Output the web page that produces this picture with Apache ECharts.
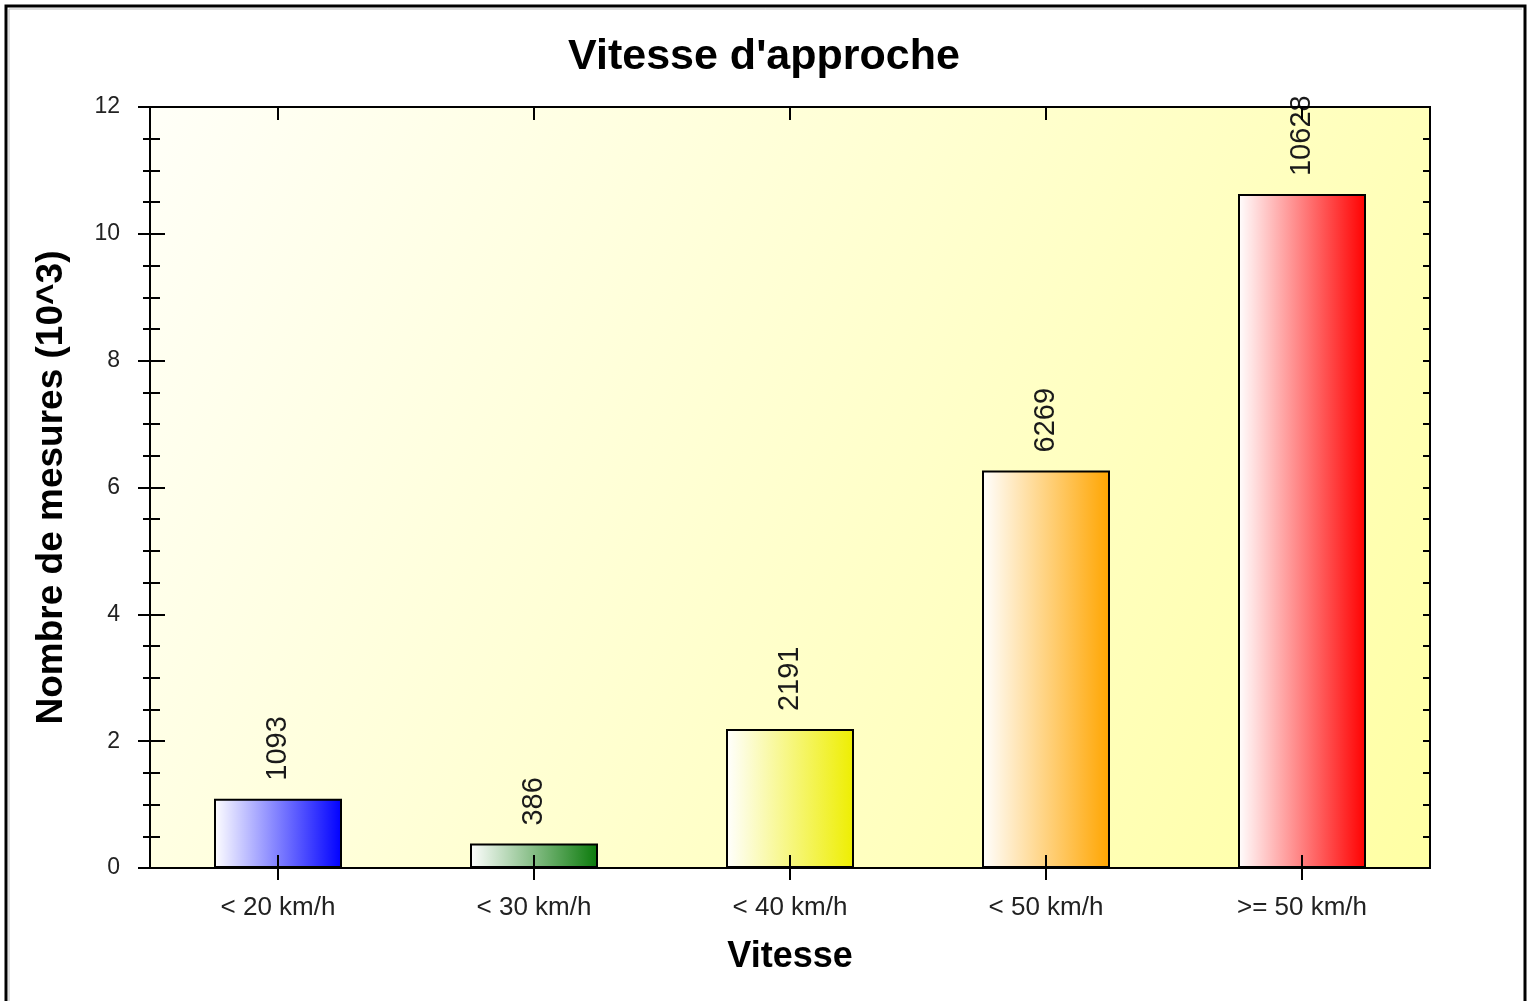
<!DOCTYPE html>
<html>
<head>
<meta charset="utf-8">
<script src="https://cdn.jsdelivr.net/npm/echarts@6/dist/echarts.min.js"></script>
<style>
  html, body { margin: 0; padding: 0; background: #fff; }
  #main { width: 1528px; height: 1001px; }
</style>
</head>
<body>
<div id="main"></div>
<script>
// catégories et valeurs (nombre de mesures)
var categories = ['< 20 km/h', '< 30 km/h', '< 40 km/h', '< 50 km/h', '>= 50 km/h'];
var mesures = [1093, 386, 2191, 6269, 10628];
var couleurs = ['#0000ff', '#0a7a0a', '#eeee00', '#ffa500', '#ff0000'];
var yTicks = [0, 2000, 4000, 6000, 8000, 10000, 12000];

var barData = mesures.map(function (v, i) {
    return {
        value: v,
        itemStyle: {
            color: new echarts.graphic.LinearGradient(0, 0, 1, 0, [
                { offset: 0, color: '#ffffff' },
                { offset: 1, color: couleurs[i] }
            ]),
            borderColor: '#000',
            borderWidth: 2
        }
    };
});

var axisLine = { show: true, onZero: false, lineStyle: { color: '#000', width: 2 } };
var noLine = { show: false, onZero: false };
var tickStyle = { color: '#000', width: 2 };

var myChart = echarts.init(document.getElementById('main'));
var option = {
    animation: false,
    backgroundColor: '#fff',
    title: {
        text: "Vitesse d'approche",
        left: 'center',
        top: 31,
        textStyle: { fontFamily: 'Liberation Sans', fontSize: 43, fontWeight: 'bold', color: '#000' }
    },
    grid: {
        left: 150,
        right: 98,
        top: 107,
        bottom: 133,
        show: true,
        z: 0,
        borderColor: '#000',
        borderWidth: 2,
        backgroundColor: new echarts.graphic.LinearGradient(0, 0, 1, 1, [
            { offset: 0, color: '#fffff8' },
            { offset: 1, color: '#ffffa4' }
        ])
    },
    graphic: [
        {
            type: 'polyline',
            shape: { points: [[6, 1001], [6, 6], [1525, 6], [1525, 1001]] },
            style: { stroke: '#000', lineWidth: 3, fill: null }
        },
        {
            type: 'polyline',
            shape: { points: [[9, 1001], [9, 9], [1522, 9]] },
            style: { stroke: '#bbb', lineWidth: 1, fill: null }
        }
    ],
    xAxis: [
        {
            type: 'category',
            data: categories,
            position: 'bottom',
            z: 5,
            name: 'Vitesse',
            nameLocation: 'middle',
            nameGap: 71,
            nameTextStyle: { fontFamily: 'Liberation Sans', fontSize: 36, fontWeight: 'bold', color: '#000' },
            axisLine: axisLine,
            axisTick: { show: true, alignWithLabel: true, interval: 0, length: 12, lineStyle: tickStyle },
            axisLabel: { interval: 0, margin: 27, fontFamily: 'Liberation Sans', fontSize: 26, color: '#222' }
        },
        {
            type: 'category',
            data: categories,
            position: 'top',
            z: 5,
            axisLine: axisLine,
            axisTick: { show: true, inside: true, alignWithLabel: true, interval: 0, length: 13, lineStyle: tickStyle },
            axisLabel: { show: false }
        },
        {
            type: 'category',
            data: categories,
            position: 'bottom',
            z: 5,
            axisLine: noLine,
            axisTick: { show: true, inside: true, alignWithLabel: true, interval: 0, length: 13, lineStyle: tickStyle },
            axisLabel: { show: false }
        }
    ],
    yAxis: [
        {
            type: 'value',
            position: 'left',
            z: 5,
            min: 0,
            max: 12000,
            interval: 2000,
            name: 'Nombre de mesures (10^3)',
            nameLocation: 'middle',
            nameGap: 80,
            nameTextStyle: { fontFamily: 'Liberation Sans', fontSize: 37, fontWeight: 'bold', color: '#000' },
            axisLine: axisLine,
            splitLine: { show: false },
            axisTick: { show: true, length: 12, lineStyle: tickStyle },
            minorTick: { show: true, splitNumber: 4, length: 7, lineStyle: tickStyle },
            axisLabel: {
                margin: 30,
                fontFamily: 'Liberation Sans',
                fontSize: 23,
                color: '#222',
                formatter: function (v) { return yTicks.indexOf(v) >= 0 ? String(v / 1000) : ''; }
            }
        },
        {
            type: 'value',
            position: 'right',
            z: 5,
            min: 0,
            max: 12000,
            interval: 2000,
            axisLine: axisLine,
            splitLine: { show: false },
            axisTick: { show: true, inside: true, length: 7, lineStyle: tickStyle },
            minorTick: { show: true, splitNumber: 4, length: 7, lineStyle: tickStyle },
            axisLabel: { show: false }
        },
        {
            type: 'value',
            position: 'left',
            z: 5,
            min: 0,
            max: 12000,
            interval: 2000,
            axisLine: noLine,
            splitLine: { show: false },
            axisTick: { show: true, inside: true, length: 15, lineStyle: tickStyle },
            minorTick: { show: true, splitNumber: 4, length: 10, lineStyle: tickStyle },
            axisLabel: { show: false }
        }
    ],
    series: [
        {
            type: 'bar',
            xAxisIndex: 0,
            yAxisIndex: 0,
            barWidth: '50%',
            data: barData,
            z: 3,
            label: {
                show: true,
                position: 'top',
                distance: 18,
                rotate: 90,
                align: 'left',
                verticalAlign: 'middle',
                fontFamily: 'Liberation Sans',
                fontSize: 29,
                color: '#1a1a1a'
            }
        }
    ]
};
myChart.setOption(option);
</script>
</body>
</html>
